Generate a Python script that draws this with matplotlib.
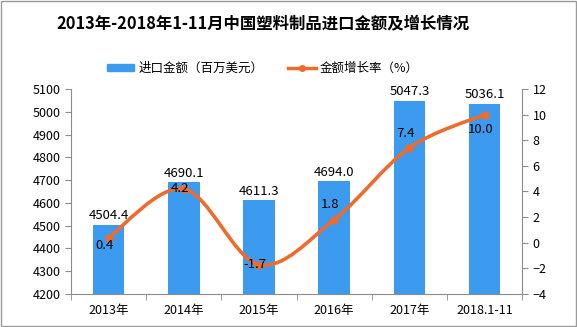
import matplotlib
matplotlib.use("Agg")
import matplotlib.pyplot as plt
from matplotlib.path import Path
from matplotlib.patches import PathPatch, Rectangle
from matplotlib.lines import Line2D
import numpy as np

plt.rcParams['font.family'] = ['Noto Sans CJK SC', 'DejaVu Sans']

categories = ["2013年", "2014年", "2015年", "2016年", "2017年", "2018.1-11"]
import_value = [4504.4, 4690.1, 4611.3, 4694.0, 5047.3, 5036.1]
growth_rate = [0.4, 4.2, -1.7, 1.8, 7.4, 10.0]
title = "2013年-2018年1-11月中国塑料制品进口金额及增长情况"
bar_label = "进口金额（百万美元）"
line_label = "金额增长率（%）"

bar_color = "#3D9BEF"
line_color = "#EE6B2D"
axis_color = "#8C8C8C"

fig = plt.figure(figsize=(5.77, 3.27), dpi=100)
fig.patches.append(Rectangle((0.002, 0.003), 0.996, 0.994, transform=fig.transFigure,
                             fill=False, edgecolor="#9A9A9A", linewidth=1.0))
ax = fig.add_axes([0.123, 0.101, 0.782, 0.627])
x = np.arange(len(categories))
ax.bar(x, import_value, width=0.42, color=bar_color, zorder=2)
ax.set_ylim(4200, 5100)
ax.set_yticks(np.arange(4200, 5101, 100))
ax.set_xlim(-0.5, len(categories) - 0.5)
ax.set_xticks(x)
ax.set_xticklabels(categories, fontsize=9)
ax.set_xticks(np.arange(-0.5, len(categories)), minor=True)
ax.tick_params(axis='x', which='major', length=0, pad=7)
ax.tick_params(axis='x', which='minor', length=4, color=axis_color)
ax.tick_params(axis='y', length=4, color=axis_color, labelsize=9)
for s in ['top', 'right']:
    ax.spines[s].set_visible(False)
for s in ['left', 'bottom']:
    ax.spines[s].set_color(axis_color)

for xi, v in zip(x, import_value):
    ax.text(xi, v + 12, f"{v:.1f}", ha='center', va='bottom', fontsize=9.5)

ax2 = ax.twinx()
ax2.set_ylim(-4, 12)
ax2.set_yticks(np.arange(-4, 13, 2))
ax2.tick_params(axis='y', length=4, color=axis_color, labelsize=9)
for s in ['top', 'left', 'bottom']:
    ax2.spines[s].set_visible(False)
ax2.spines['right'].set_color(axis_color)

# smooth curve (Catmull-Rom via cubic Bezier segments)
pts = np.column_stack([x, growth_rate]).astype(float)
verts = [tuple(pts[0])]
codes = [Path.MOVETO]
n = len(pts)
for i in range(n - 1):
    p0 = pts[i - 1] if i > 0 else pts[i]
    p1 = pts[i]
    p2 = pts[i + 1]
    p3 = pts[i + 2] if i + 2 < n else pts[i + 1]
    c1 = p1 + (p2 - p0) / 6.0
    c2 = p2 - (p3 - p1) / 6.0
    verts += [tuple(c1), tuple(c2), tuple(p2)]
    codes += [Path.CURVE4] * 3
ax2.add_patch(PathPatch(Path(verts, codes), facecolor='none', edgecolor=line_color,
                        linewidth=2.6, zorder=3))
ax2.plot(x, growth_rate, linestyle='none', marker='o', markersize=5, color=line_color, zorder=4)

offsets = [-0.6, 0.0, 0.0, 1.15, 1.15, -1.2]
for xi, v, off in zip(x, growth_rate, offsets):
    ax2.text(xi - 0.05, v + off, f"{v:.1f}", ha='center', va='center', fontsize=9.5, zorder=5)

fig.text(0.455, 0.928, title, ha='center', va='center', fontsize=11.8, fontweight='bold')

handles = [Rectangle((0, 0), 1, 1, color=bar_color),
           Line2D([0], [0], color=line_color, linewidth=2.5, marker='o', markersize=4)]
fig.legend(handles, [bar_label, line_label], loc='center', bbox_to_anchor=(0.455, 0.79),
           ncol=2, frameon=False, fontsize=9, handlelength=2.2, handleheight=0.5,
           columnspacing=2.0, handletextpad=0.3)

fig.savefig("out.png", dpi=100)
